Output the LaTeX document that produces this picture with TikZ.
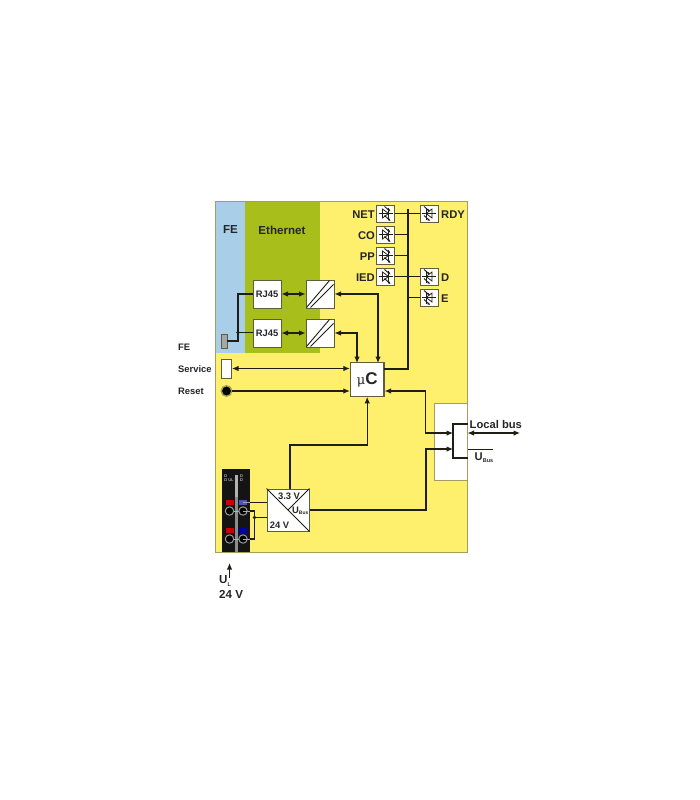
\documentclass[tikz,border=0pt]{standalone}
\usepackage{fontspec}
\setmainfont{Liberation Sans}
\usetikzlibrary{arrows.meta,calc}
\definecolor{panelyellow}{HTML}{FEF06C}
\definecolor{feblue}{HTML}{A9CFE8}
\definecolor{ethgreen}{HTML}{A8BF1B}
\definecolor{edgegrey}{HTML}{A09F5E}
\definecolor{boxedge}{HTML}{5E5E3C}
\definecolor{ink}{HTML}{1E1E14}
\definecolor{labelink}{HTML}{26262A}
\tikzset{
  x=1pt,y=-1pt,
  lab/.style={font=\bfseries\fontsize{9.4}{10}\selectfont,text=labelink,inner sep=0pt},
  biglab/.style={font=\bfseries\fontsize{11.2}{12}\selectfont,text=labelink,inner sep=0pt},
  box/.style={draw=boxedge,line width=1pt,fill=white,inner sep=0pt,font=\bfseries\fontsize{9.4}{10}\selectfont,text=labelink},
  wire/.style={draw=ink,line width=1.1pt},
  heavy/.style={draw=ink,line width=2.1pt},
  biarrow/.style={wire,{Latex[length=6.5pt,width=5.5pt]}-{Latex[length=6.5pt,width=5.5pt]}},
  toarrow/.style={wire,-{Latex[length=6.5pt,width=5.5pt]}},
  junction/.style={circle,fill=ink,inner sep=0pt,minimum size=3.6pt},
  ledbox/.style={draw=boxedge,line width=0.9pt,fill=white,inner sep=0pt,minimum width=18pt,minimum height=17pt},
  ledline/.style={draw=ink,line width=0.75pt},
  ledray/.style={draw=ink,line width=0.9pt,-{Latex[length=2.5pt,width=2.5pt]}},
}
\newcommand{\ledleft}[1]{%
  \draw[ledline] ($(#1)+(-7,0)$) -- ($(#1)+(7,0)$);
  \draw[ledline] ($(#1)+(-3,-4.5)$) -- ($(#1)+(-3,4.5)$) -- ($(#1)+(3,0)$) -- cycle;
  \draw[ledline] ($(#1)+(3,-6)$) -- ($(#1)+(3,6)$);
  \draw[ledray] ($(#1)+(-1,-7)$) -- ($(#1)+(5,-2)$);
  \draw[ledray] ($(#1)+(-1,2)$) -- ($(#1)+(5,7.5)$);
}
\newcommand{\ledright}[1]{%
  \draw[ledline] ($(#1)+(-7,0)$) -- ($(#1)+(7,0)$);
  \draw[ledline] ($(#1)+(3,-4.5)$) -- ($(#1)+(3,4.5)$) -- ($(#1)+(-3,0)$) -- cycle;
  \draw[ledline] ($(#1)+(-3,-6)$) -- ($(#1)+(-3,6)$);
  \draw[ledray] ($(#1)+(-5,-7)$) -- ($(#1)+(1,-2)$);
  \draw[ledray] ($(#1)+(-5,2)$) -- ($(#1)+(1,7.5)$);
}
\begin{document}
\begin{tikzpicture}
\useasboundingbox (0,0) rectangle (700,800);
\fill[white] (0,0) rectangle (700,800);
% panels
\fill[panelyellow] (215,201) rectangle (467.5,552.5);
\fill[feblue] (215,201) rectangle (245,353);
\fill[ethgreen] (245,201) rectangle (320,353);
\fill[white] (434,403) rectangle (467.5,480);
\draw[edgegrey,line width=0.8pt] (467.5,403) -- (434,403) -- (434,480) -- (467.5,480);
\draw[edgegrey,line width=0.8pt] (467.5,201) -- (215,201) -- (215,552.5) -- (467.5,552.5) -- cycle;
% panel titles
\node[biglab,font=\bfseries\fontsize{11.6}{12}\selectfont] (tfe) at (230.5,230) {FE};
\node[biglab,font=\bfseries\fontsize{11.6}{12}\selectfont] (teth) at (282,230) {Ethernet};
% boxes
\node[box,minimum width=28pt,minimum height=28pt] (rja) at (267,294) {RJ45};
\node[box,minimum width=28pt,minimum height=28pt] (rjb) at (267,333) {RJ45};
\node[box,minimum width=28pt,minimum height=28pt] (cva) at (320,294) {};
\node[box,minimum width=28pt,minimum height=28pt] (cvb) at (320,333) {};
\foreach \c in {cva,cvb}{
  \draw[ink,line width=0.9pt] ($(\c.south west)+(1,-1)$) -- ($(\c.north east)+(-5,1)$);
  \draw[ink,line width=0.9pt] ($(\c.south west)+(5,-1)$) -- ($(\c.north east)+(-1,5)$);
}
\node[box,line width=1.2pt,minimum width=33.5pt,minimum height=33.5pt] (uc) at (367.2,379.5) {\fontspec{DejaVu Serif}\mdseries\fontsize{13}{14}\selectfont μ\fontspec{Liberation Sans}\bfseries\fontsize{17}{18}\selectfont C};
% FE terminal
\node[draw=boxedge,fill=gray!70,line width=0.6pt,minimum width=6pt,minimum height=14pt,inner sep=0pt] (feterm) at (224,341) {};
\coordinate (febend) at (238,341);
\coordinate (fedot) at (238,332.5);
\draw[wire] (feterm.east) -- (febend) |- (rja.west);
\draw[wire] (fedot) -- (rjb.west |- fedot);
\node[junction] (fedotn) at (fedot) {};
% RJ45 to converter
\draw[biarrow] (rja.east) -- (cva.west);
\draw[biarrow] (rjb.east) -- (cvb.west);
% Converters to uC
\coordinate (ucta) at (378,363);
\coordinate (uctb) at (357,363);
\draw[biarrow] (cva.east) -| (ucta);
\draw[biarrow] (cvb.east) -| (uctb);
% Service, Reset
\node[draw=boxedge,fill=white,line width=0.9pt,minimum width=10.5pt,minimum height=19pt,inner sep=0pt] (service) at (226.3,368.5) {};
\node[circle,fill=black,draw=edgegrey,line width=1.4pt,minimum size=10.5pt,inner sep=0pt] (reset) at (226.5,391) {};
\draw[biarrow] (service.east) -- (uc.west |- service.east);
\draw[toarrow] (reset.east) -- (uc.west |- reset.east);
\node[lab,anchor=west] (lfe) at (178,347) {FE};
\node[lab,anchor=west] (lsv) at (178,369) {Service};
\node[lab,anchor=west] (lrs) at (178,391) {Reset};
% LED bus (drawn beneath boxes)
\coordinate (bustop) at (407.8,209);
\coordinate (busbot) at (407.8,369);
\coordinate (ucbus) at (384,369);
\draw[wire] (385.5,213.5) -- (429,213.5);
\draw[wire] (385.5,276.5) -- (429,276.5);
\draw[wire] (385.5,234.5) -- (407.8,234.5);
\draw[wire] (385.5,255.5) -- (407.8,255.5);
\draw[wire] (407.8,297.5) -- (429,297.5);
\draw[heavy] (ucbus) -- (busbot) -- (bustop);
% LEDs
\node[ledbox] (net) at (385.5,213.5) {};
\node[ledbox] (co) at (385.5,234.5) {};
\node[ledbox] (pp) at (385.5,255.5) {};
\node[ledbox] (ied) at (385.5,276.5) {};
\node[ledbox] (rdy) at (429,213.5) {};
\node[ledbox] (d) at (429,276.5) {};
\node[ledbox] (e) at (429,297.5) {};
\foreach \n in {net,co,pp,ied}{\ledleft{\n}}
\foreach \n in {rdy,d,e}{\ledright{\n}}
\node[biglab,anchor=east] (lnet) at (375,214.5) {NET};
\node[biglab,anchor=east] (lco) at (375,235.5) {CO};
\node[biglab,anchor=east] (lpp) at (375,256.5) {PP};
\node[biglab,anchor=east] (lied) at (375,277.5) {IED};
\node[biglab,anchor=west] (lrdy) at (441,214.5) {RDY};
\node[biglab,anchor=west] (ld) at (441,277.5) {D};
\node[biglab,anchor=west] (le) at (441,298.5) {E};
% Supply converter
\node[box,minimum width=42pt,minimum height=42pt] (pwr) at (288,510) {};
\draw[ink,line width=1pt] (pwr.north west) -- (pwr.south east);
\draw[ink,line width=1pt] (pwr.north east) -- (pwr.center);
\node[lab] (t33) at (289,496) {3.3 V};
\node[lab] (t24) at (279.5,525) {24 V};
\node[lab,anchor=west] (tub) at (292,511) {U\raisebox{-1.5pt}{\fontsize{5}{5}\selectfont Bus}};
% Supply to uC
\coordinate (pa) at (290,445);
\coordinate (pb) at (367.2,445);
\draw[toarrow] (pa |- pwr.north) -- (pa) -- (pb) -- (uc.south);
% Local bus
\coordinate (lba) at (425.5,391);
\coordinate (lbb) at (425.5,433);
\coordinate (lbc) at (453,433);
\coordinate (lbd) at (426,510);
\coordinate (lbe) at (426,449);
\coordinate (lbf) at (453,449);
\coordinate (brt) at (453,424);
\coordinate (brb) at (453,458);
\coordinate (brte) at (467.5,424);
\coordinate (brbe) at (467.5,458);
\coordinate (lbl) at (467.5,433);
\coordinate (lbr) at (520,433);
\coordinate (ubr) at (493,449);
\coordinate (ubl) at (467.5,449);
\draw[biarrow] (lbc) -- (lbb) -- (lba) -- (uc.east |- lba);
\draw[toarrow] (pwr.east) -- (lbd) -- (lbe) -- (lbf);
\draw[heavy] (brte) -- (brt) -- (brb) -- (brbe);
\draw[biarrow] (lbl) -- (lbr);
\draw[wire,line width=0.7pt] (ubl) -- (ubr);
\node[biglab,anchor=west] (tlb) at (469.5,424) {Local bus};
\node[biglab,anchor=west] (tubus) at (474.5,458) {U\raisebox{-2pt}{\fontsize{5.5}{6}\selectfont Bus}};
% Terminal block
\fill[black!92] (222,469) rectangle (250,552);
\fill[black!30] (235,475) rectangle (237.5,497);
\fill[black!45] (235,497) rectangle (237.5,552);
\node[font=\fontsize{4}{4.5}\selectfont,text=white,inner sep=0pt,align=left] (tdl) at (229,478) {D\\D UL};
\node[font=\fontsize{4}{4.5}\selectfont,text=white,inner sep=0pt,align=left] (tdr) at (241.5,478) {D\\D};
\fill[red!80!black] (226,499.5) rectangle (234,505);
\fill[blue!35!gray] (239,499.5) rectangle (247,505);
\fill[red!80!black] (226,528) rectangle (234,533);
\fill[blue!65!black] (239,528) rectangle (247,533);
\foreach \cy in {511,539}{
  \draw[gray!60,line width=1pt] (229.5,\cy) -- (243,\cy);
  \foreach \cx in {229.5,243}{
    \draw[gray!80,fill=black,line width=1pt] (\cx,\cy) circle (4.2);
  }
}
\coordinate (tbb) at (243,511);
\coordinate (tbc) at (254.5,511);
\coordinate (tbd) at (254.5,539);
\coordinate (tbe) at (243,539);
\coordinate (tbf) at (254.5,517.5);
\coordinate (tba) at (243,502.5);
\draw[gray!70,line width=1pt] (tba) -- (250,502.5);
\draw[wire] (250,502.5) -- (pwr.west |- tba);
\draw[gray!70,line width=1pt] (tbb) -- (250,511);
\draw[gray!70,line width=1pt] (250,539) -- (tbe);
\draw[wire] (250,511) -- (tbc) -- (tbd) -- (250,539);
\draw[wire] (pwr.west |- tbf) -- (tbf);
\node[junction] (tbdot) at (tbf) {};
% Supply label
\coordinate (uarr1) at (229.5,578);
\coordinate (uarr2) at (229.5,563);
\draw[toarrow] (uarr1) -- (uarr2);
\node[biglab,anchor=west,font=\bfseries\fontsize{11.6}{12}\selectfont] (tul) at (219,581) {U\raisebox{-2.5pt}{\fontsize{5.5}{6}\selectfont L}};
\node[biglab,anchor=west,font=\bfseries\fontsize{11.6}{12}\selectfont] (t24v) at (219,594) {24 V};
\end{tikzpicture}
\end{document}
